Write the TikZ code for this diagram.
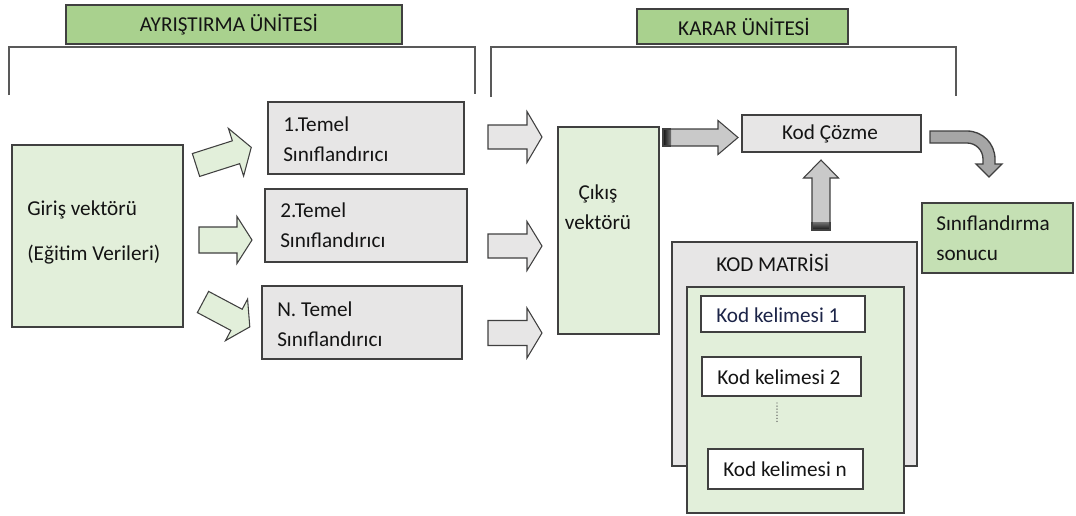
\documentclass[tikz,border=0pt]{standalone}
\usepackage{fontspec}
\setmainfont{Carlito}
\usetikzlibrary{fit}
\definecolor{hdrgreen}{HTML}{A9D18E}
\definecolor{ltgreen}{HTML}{E2EFDA}
\definecolor{resgreen}{HTML}{C5E0B4}
\definecolor{boxgray}{HTML}{E7E6E6}
\definecolor{edgec}{HTML}{404040}
\definecolor{brkc}{HTML}{595959}
\definecolor{arrgray}{HTML}{C9C9C9}
\definecolor{bentgray}{HTML}{A6A6A6}
\definecolor{navyc}{HTML}{1C2448}
\definecolor{txtc}{HTML}{141414}
\tikzset{
  box/.style={draw=edgec, line width=0.9pt, inner sep=0pt, rectangle},
  txt/.style={font=\fontsize{15.9}{22.5}\selectfont, text=txtc, inner sep=0pt, align=left},
  brack/.style={draw=brkc, line width=1pt},
  greenarr/.style={fill=ltgreen, draw=edgec, line width=0.8pt, line join=miter},
  grayarr/.style={fill=boxgray, draw=edgec, line width=0.8pt, line join=miter},
  midarr/.style={fill=arrgray, draw=edgec, line width=0.8pt, line join=miter},
  bentarr/.style={fill=bentgray, draw=edgec, line width=1pt, line join=miter}
}
% tail x, tail y, angle, length, shaft width, head width, head length, style
\newcommand\blkarrow[8]{%
  \draw[#8, shift={(#1,#2)}, rotate=#3]
    (0,{-#5/2}) -- ({#4-#7},{-#5/2}) -- ({#4-#7},{-#6/2}) -- (#4,0)
    -- ({#4-#7},{#6/2}) -- ({#4-#7},{#5/2}) -- (0,{#5/2}) -- cycle;}
\begin{document}
\begin{tikzpicture}[x=0.75pt,y=-0.75pt]
\useasboundingbox (0,0) rectangle (1076,515);

% headers
\node[box, fill=hdrgreen, fit={(66,5)(402,44)}] (ayr) {};
\node[txt] (ayrT) at (229,25) {AYRIŞTIRMA ÜNİTESİ};
\node[box, fill=hdrgreen, fit={(637,9)(848,44)}] (karar) {};
\node[txt] (kararT) at (744,27) {KARAR ÜNİTESİ};

% brackets
\draw[brack] (9,95) -- (9,47) -- (475,47) -- (475,94);
\draw[brack] (491,97) -- (491,47) -- (956,47) -- (956,96);

% input
\node[box, fill=ltgreen, fit={(12,145)(183,327)}] (giris) {};
\node[txt, anchor=west, font=\fontsize{15.9}{33.75}\selectfont] (girisT) at (27,232) {Giriş vektörü\\(Eğitim Verileri)};

% base classifiers
\node[box, fill=boxgray, fit={(268,102)(464,174)}] (t1) {};
\node[txt, anchor=west] (t1T) at (283,139) {1.Temel\\Sınıflandırıcı};
\node[box, fill=boxgray, fit={(265,189)(467,262)}] (t2) {};
\node[txt, anchor=west] (t2T) at (280,225) {2.Temel\\Sınıflandırıcı};
\node[box, fill=boxgray, fit={(262,286)(462,359)}] (tn) {};
\node[txt, anchor=west] (tnT) at (277,324) {N. Temel\\Sınıflandırıcı};

% green arrows
\blkarrow{196}{165}{17.7}{58}{24}{50}{16}{greenarr}
\blkarrow{199}{240}{0}{53}{26}{47}{15}{greenarr}
\blkarrow{203}{302}{-28}{53}{24}{47}{15}{greenarr}

% gray arrows
\blkarrow{488}{137}{0}{54}{24}{51}{15}{grayarr}
\blkarrow{488}{246}{0}{54}{24}{49}{15}{grayarr}
\blkarrow{488}{333}{0}{54}{25}{50}{15}{grayarr}

% output vector
\node[box, fill=ltgreen, fit={(558,127)(659,334)}] (cikis) {};
\node[txt, align=center] (cikisT) at (598,207) {Çıkış\\vektörü};

% decode
\node[box, fill=boxgray, fit={(742,115)(921,152)}] (kod) {};
\node[txt] (kodT) at (830,134) {Kod Çözme};

\blkarrow{663}{137.5}{0}{75}{17}{34}{20}{midarr}
\shade[left color=black!90, right color=black!55] (663.6,129.6) rectangle (671,145.4);
\draw[edgec, line width=0.8pt] (671,129) -- (663,129) -- (663,146) -- (671,146);

\blkarrow{821}{230}{90}{70}{18}{35}{18}{midarr}
\shade[bottom color=black!90, top color=black!55] (812.6,222) rectangle (829.4,229.4);
\draw[edgec, line width=0.8pt] (812,222) -- (812,230) -- (830,230) -- (830,222);

% bent arrow
\draw[bentarr] (930,131) -- (967,131) arc[start angle=270, end angle=360, radius=28]
  -- (995,164) -- (1002,164) -- (989,177) -- (976,164) -- (983,164) -- (983,159)
  arc[start angle=0, end angle=-90, radius=16] -- (930,143) -- cycle;

% result
\node[box, fill=resgreen, fit={(922,203)(1073,273)}] (sonuc) {};
\node[txt, anchor=west] (sonucT) at (936,238) {Sınıflandırma\\sonucu};

% code matrix
\node[box, fill=boxgray, fit={(672,242)(917,466)}] (matris) {};
\node[txt, anchor=west] (matrisT) at (716,263) {KOD MATRİSİ};
\node[box, fill=ltgreen, fit={(687,287)(904,513)}] (inner) {};
\node[box, fill=white, fit={(701,296)(865,332)}] (k1) {};
\node[txt, anchor=west, text=navyc] (k1T) at (716,315) {Kod kelimesi 1};
\node[box, fill=white, fit={(702,357)(861,396)}] (k2) {};
\node[txt, anchor=west] (k2T) at (717,377) {Kod kelimesi 2};
\node[box, fill=white, fit={(708,449)(863,489)}] (kn) {};
\node[txt, anchor=west] (knT) at (723,469) {Kod kelimesi n};
\coordinate (dA) at (777,403);
\coordinate (dB) at (777,422);
\draw[brkc, line width=1.1pt, line cap=round, dash pattern=on 0pt off 2.3pt] (dA) -- (dB);
\end{tikzpicture}
\end{document}
